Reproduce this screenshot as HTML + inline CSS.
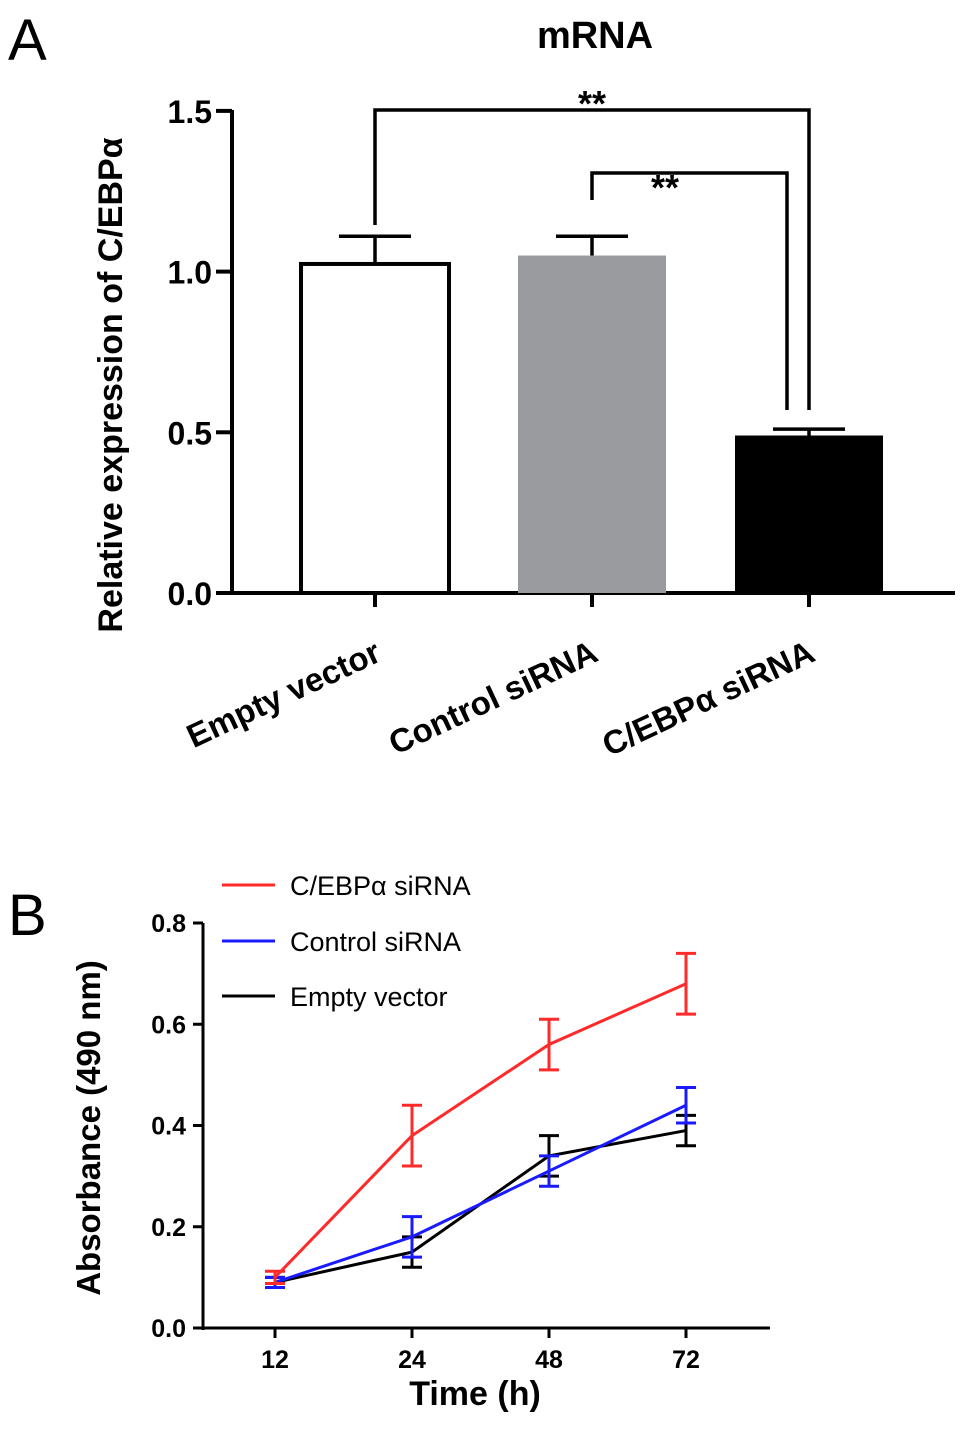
<!DOCTYPE html>
<html><head><meta charset="utf-8"><style>
body{margin:0;background:#fff;}
svg{display:block;font-family:"Liberation Sans","DejaVu Sans",sans-serif;}
</style></head><body>
<svg id="s" width="969" height="1448" viewBox="0 0 969 1448">
<text x="8" y="60" font-size="58">A</text>
<text x="595" y="48" font-size="38" font-weight="bold" text-anchor="middle">mRNA</text>
<text transform="translate(122,385) rotate(-90)" font-size="34" font-weight="bold" text-anchor="middle">Relative expression of C/EBPα</text>
<g id="ga"></g>
<text x="8" y="935" font-size="58">B</text>
<text transform="translate(100,1128) rotate(-90)" font-size="33" font-weight="bold" text-anchor="middle">Absorbance (490 nm)</text>
<text x="475" y="1405" font-size="34" font-weight="bold" text-anchor="middle">Time (h)</text>
<g id="gb"></g>
</svg>
<script>
const catsA=["Empty vector","Control siRNA","C/EBPα siRNA"];
const valsA=[1.03,1.05,0.49];
const errsA=[0.08,0.06,0.02];
const fillsA=["#ffffff","#9a9b9f","#000000"];
const ticksA=[0,0.5,1.0,1.5];
const catsB=["12","24","48","72"];
const redB=[0.10,0.38,0.56,0.68],redE=[0.012,0.06,0.05,0.06];
const blueB=[0.09,0.18,0.31,0.44],blueE=[0.01,0.04,0.03,0.035];
const blackB=[0.09,0.15,0.34,0.39],blackE=[0.01,0.03,0.04,0.03];
const ticksB=[0,0.2,0.4,0.6,0.8];
const NS="http://www.w3.org/2000/svg";
function mk(p,t,a,txt){const e=document.createElementNS(NS,t);for(const k in a)e.setAttribute(k,a[k]);if(txt!=null)e.textContent=txt;p.appendChild(e);return e;}
// Panel A
const ga=document.getElementById('ga');
const yA=v=>593-v*321.4, xA=i=>375+i*217;
mk(ga,'line',{x1:232,y1:110,x2:232,y2:595,stroke:'#000','stroke-width':4});
mk(ga,'line',{x1:230,y1:593,x2:955,y2:593,stroke:'#000','stroke-width':4});
ticksA.forEach(t=>{
 const l=mk(ga,'line',{x1:216,y1:yA(t),x2:232,y2:yA(t),stroke:'#000','stroke-width':4});
 
 const tx=mk(ga,'text',{x:212,y:yA(t)+12,'font-size':32,'font-weight':'bold','text-anchor':'end'},t.toFixed(1));
 
});
catsA.forEach((c,i)=>{
 const x=xA(i);
 const ey=mk(ga,'path',{d:`M${x} ${yA(valsA[i])} V${yA(valsA[i]+errsA[i])} M${x-36} ${yA(valsA[i]+errsA[i])} H${x+36}`,stroke:'#000','stroke-width':3.5,fill:'none'});
 
 const b=mk(ga,'rect',{x:x-74,y:yA(valsA[i])+(i==0?2:0),width:148,height:593-yA(valsA[i])-(i==0?2:0),fill:fillsA[i],stroke:i==0?'#000':'none','stroke-width':4});
 
 const tk=mk(ga,'line',{x1:x,y1:593,x2:x,y2:607,stroke:'#000','stroke-width':4});
 
 const lb=mk(ga,'text',{transform:`translate(${x+8},660) rotate(-25)`,'font-size':33,'font-weight':'bold','text-anchor':'end'},c);
 
});
const br1=mk(ga,'path',{d:`M${xA(0)} 225 V110 H${xA(2)} V410`,stroke:'#000','stroke-width':3.5,fill:'none'});

const br2=mk(ga,'path',{d:`M${xA(1)} 200 V173 H787 V410`,stroke:'#000','stroke-width':3.5,fill:'none'});

const s1=mk(ga,'text',{x:592,y:116,'font-size':36,'font-weight':'bold','text-anchor':'middle'},'**');

const s2=mk(ga,'text',{x:665,y:200,'font-size':36,'font-weight':'bold','text-anchor':'middle'},'**');

// Panel B
const gb=document.getElementById('gb');
const yB=v=>1328-v*506.25, xB=i=>275+i*137;
mk(gb,'line',{x1:203,y1:923,x2:203,y2:1330,stroke:'#000','stroke-width':3});
mk(gb,'line',{x1:202,y1:1328,x2:770,y2:1328,stroke:'#000','stroke-width':3});
ticksB.forEach(t=>{
 const l=mk(gb,'line',{x1:193,y1:yB(t),x2:203,y2:yB(t),stroke:'#000','stroke-width':3});
 
 const tx=mk(gb,'text',{x:186,y:yB(t)+9,'font-size':25,'font-weight':'bold','text-anchor':'end'},t.toFixed(1));
 
});
catsB.forEach((c,i)=>{
 const tk=mk(gb,'line',{x1:xB(i),y1:1328,x2:xB(i),y2:1338,stroke:'#000','stroke-width':3});
 
 const tx=mk(gb,'text',{x:xB(i),y:1368,'font-size':25,'font-weight':'bold','text-anchor':'middle'},c);
 
});
const series=[["black",blackB,blackE,"#000"],["blue",blueB,blueE,"#1a1aff"],["red",redB,redE,"#ff2a2a"]];
series.forEach(([n,v,e,col])=>{
 const pl=mk(gb,'polyline',{points:v.map((d,i)=>xB(i)+','+yB(d)).join(' '),stroke:col,'stroke-width':3,fill:'none'});
 
 v.forEach((d,i)=>{
  const x=xB(i),t=yB(d+e[i]),b=yB(d-e[i]);
  const eb=mk(gb,'path',{d:`M${x} ${t} V${b} M${x-10} ${t} H${x+10} M${x-10} ${b} H${x+10}`,stroke:col,'stroke-width':3,fill:'none'});
  
 });
});
const leg=[["C/EBPα siRNA","#ff2a2a",885],["Control siRNA","#1a1aff",941],["Empty vector","#000",996]];
leg.forEach(([t,c,y])=>{
 const l=mk(gb,'line',{x1:222,y1:y,x2:275,y2:y,stroke:c,'stroke-width':3});
 
 const tx=mk(gb,'text',{x:290,y:y+10,'font-size':27},t);
 
});
</script>
</body></html>
